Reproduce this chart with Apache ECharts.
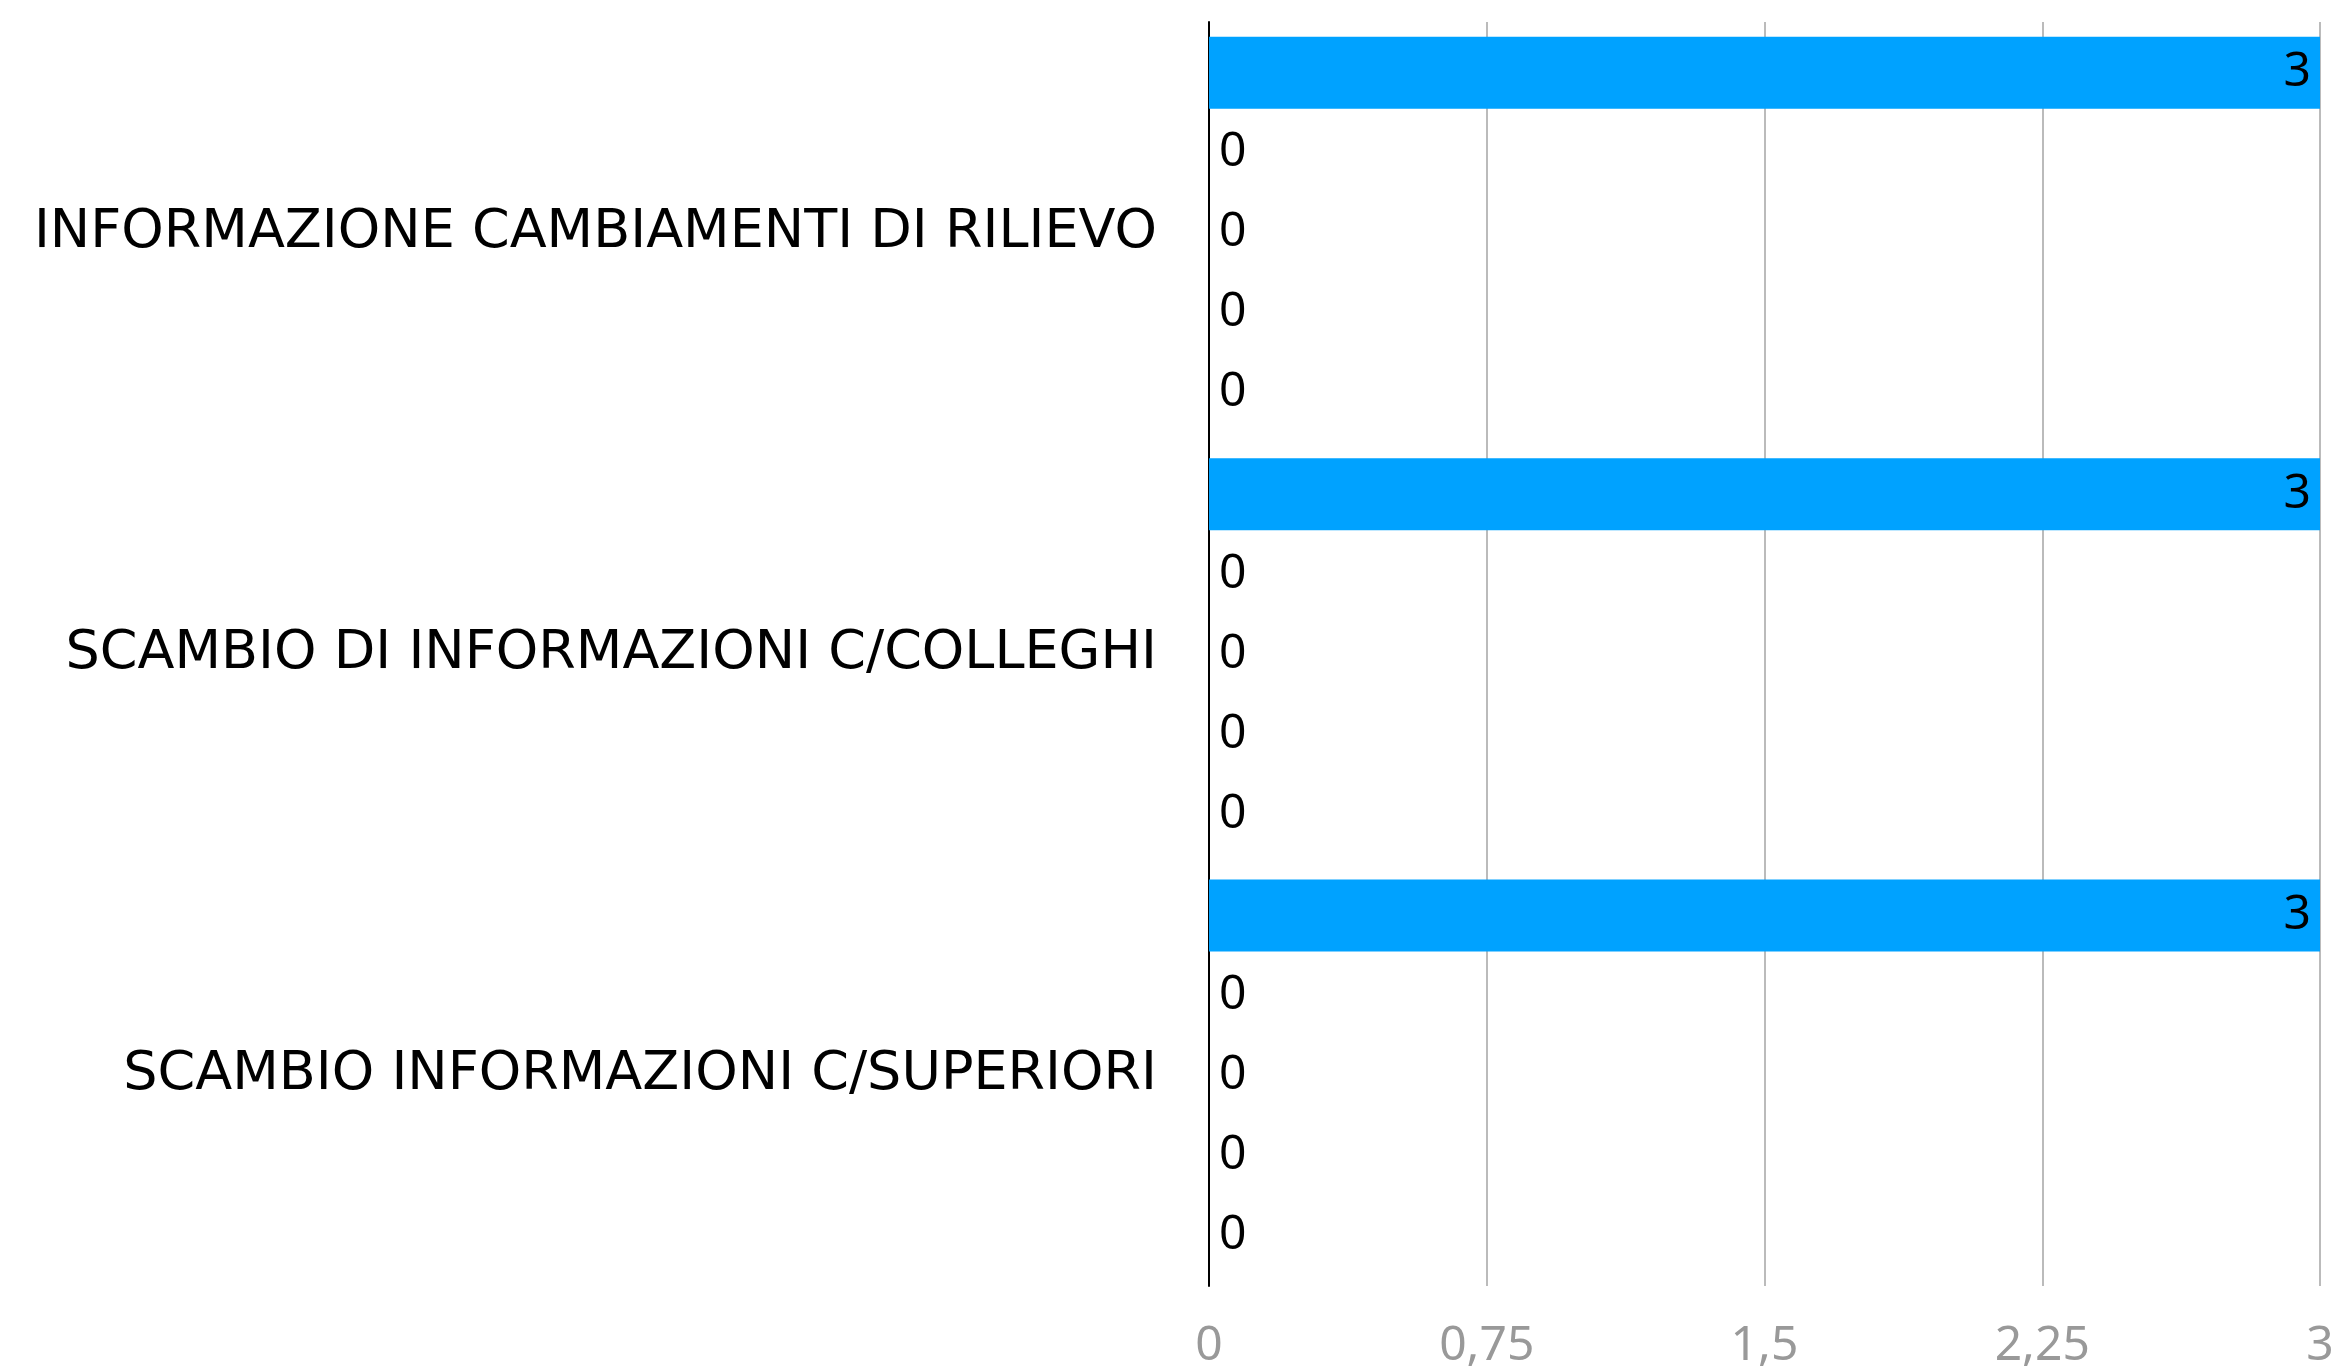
<!DOCTYPE html>
<html>
<head>
<meta charset="utf-8">
<style>
  html, body { margin: 0; padding: 0; background: #fff; }
  #chart { width: 2331px; height: 1369px; }
</style>
<script src="https://cdn.jsdelivr.net/npm/echarts@6/dist/echarts.min.js"></script>
</head>
<body>
<div id="chart"></div>
<script>
// categorie, dall'alto in basso
var categorie = [
  "INFORMAZIONE CAMBIAMENTI DI RILIEVO",
  "SCAMBIO DI INFORMAZIONI C/COLLEGHI",
  "SCAMBIO INFORMAZIONI C/SUPERIORI"
];
// una serie per ogni barra del gruppo (dall'alto in basso)
var serie1 = [3, 3, 3];
var serie2 = [0, 0, 0];
var serie3 = [0, 0, 0];
var serie4 = [0, 0, 0];
var serie5 = [0, 0, 0];
var tickValori = [0, 0.75, 1.5, 2.25, 3];

var FONT = "Noto Sans";

var myChart = echarts.init(document.getElementById("chart"));

function barra(nome, dati, colore) {
  return {
    name: nome,
    type: "bar",
    data: dati,
    barWidth: 72,
    barGap: "11%",
    itemStyle: { color: colore },
    label: {
      show: true,
      position: "right",
      distance: 10,
      color: "#000",
      fontSize: 48,
      fontFamily: FONT
    }
  };
}

var s1 = barra("Serie 1", serie1, "#00a2ff");
s1.label.position = "insideRight";
s1.label.distance = 9;

var option = {
  animation: false,
  backgroundColor: "#fff",
  grid: { left: 1209, right: 11, top: 22, bottom: 83, outerBoundsMode: "none" },
  xAxis: {
    type: "value",
    min: tickValori[0],
    max: tickValori[tickValori.length - 1],
    interval: 0.75,
    axisLine: { show: false },
    axisTick: { show: false },
    splitLine: { lineStyle: { color: "#bbbbbb", width: 2 } },
    axisLabel: {
      margin: 36,
      color: "#999999",
      fontSize: 48,
      fontFamily: FONT,
      formatter: function (v) { return String(v).replace(".", ","); }
    }
  },
  yAxis: {
    type: "category",
    inverse: true,
    data: categorie,
    axisLine: { lineStyle: { color: "#000", width: 2 } },
    axisTick: { show: false },
    splitLine: { show: false },
    axisLabel: {
      margin: 52,
      color: "#000",
      fontSize: 54,
      fontFamily: "DejaVu Sans"
    }
  },
  series: [
    s1,
    barra("Serie 2", serie2, "#7f7f7f"),
    barra("Serie 3", serie3, "#7f7f7f"),
    barra("Serie 4", serie4, "#7f7f7f"),
    barra("Serie 5", serie5, "#7f7f7f")
  ]
};
myChart.setOption(option);
</script>
</body>
</html>
